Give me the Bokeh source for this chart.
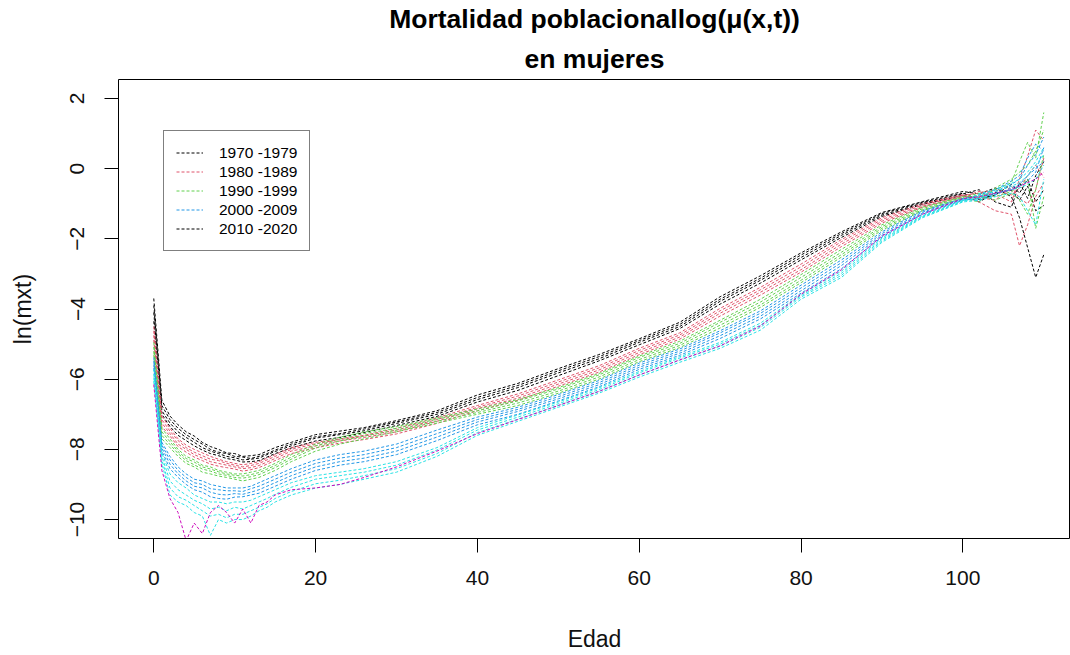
from bokeh.plotting import figure
from bokeh.models import Range1d, FixedTicker, Legend, LegendItem, Title
from bokeh.embed import file_html
from bokeh.resources import INLINE

# ---------------- data ----------------
AGES = [0, 1, 2, 3, 4, 5, 6, 7, 8, 9, 10, 11, 12, 13, 14, 15, 17, 20, 23, 26, 30,
        35, 40, 45, 50, 55, 60, 65, 70, 75, 80, 85, 90, 95, 100, 102, 104, 106,
        107, 108, 109, 110]

YEARS = [1970, 1973, 1976, 1979, 1980, 1983, 1986, 1989, 1990, 1993, 1996, 1999,
         2000, 2003, 2006, 2009, 2010, 2013, 2016, 2019, 2020]

m1970 = [-3.70, -6.60, -7.05, -7.30, -7.50, -7.62, -7.80, -7.92, -8.00, -8.10, -8.12, -8.20, -8.18, -8.15, -8.05, -7.95, -7.80, -7.58, -7.48, -7.38, -7.18, -6.90, -6.45, -6.12, -5.70, -5.30, -4.85, -4.38, -3.65, -3.05, -2.40, -1.80, -1.25, -0.94, -0.65, -0.72, -0.55, -0.80, -1.40, -2.25, -3.10, -2.45]
m1973 = [-3.90, -6.75, -7.15, -7.40, -7.58, -7.72, -7.85, -8.00, -8.08, -8.12, -8.20, -8.22, -8.26, -8.20, -8.12, -8.02, -7.85, -7.64, -7.55, -7.42, -7.22, -6.95, -6.52, -6.18, -5.76, -5.36, -4.90, -4.44, -3.72, -3.12, -2.46, -1.85, -1.28, -0.96, -0.70, -0.88, -0.75, -0.45, -0.70, -0.30, -0.95, -0.60]
m1976 = [-4.10, -6.90, -7.25, -7.50, -7.66, -7.80, -7.95, -8.05, -8.12, -8.20, -8.24, -8.30, -8.28, -8.25, -8.15, -8.06, -7.90, -7.68, -7.58, -7.47, -7.26, -7.00, -6.58, -6.24, -5.82, -5.42, -4.95, -4.50, -3.78, -3.18, -2.53, -1.90, -1.32, -0.99, -0.72, -0.60, -0.95, -1.10, -0.40, -0.85, -0.20, 0.20]
m1979 = [-4.35, -7.00, -7.35, -7.60, -7.75, -7.90, -8.02, -8.12, -8.18, -8.26, -8.30, -8.36, -8.35, -8.32, -8.22, -8.12, -7.96, -7.76, -7.66, -7.52, -7.32, -7.06, -6.65, -6.32, -5.90, -5.48, -5.02, -4.56, -3.86, -3.26, -2.60, -1.96, -1.36, -1.02, -0.76, -0.95, -0.68, -0.62, -0.90, -0.50, -1.20, -1.05]

m1980 = [-4.50, -7.05, -7.40, -7.70, -7.88, -8.00, -8.10, -8.20, -8.28, -8.35, -8.40, -8.44, -8.40, -8.35, -8.25, -8.15, -7.95, -7.80, -7.70, -7.60, -7.40, -7.10, -6.75, -6.42, -6.02, -5.62, -5.12, -4.68, -3.98, -3.38, -2.72, -2.02, -1.40, -1.00, -0.74, -0.95, -1.20, -1.30, -2.20, -1.60, -0.80, -0.40]
m1983 = [-4.62, -7.15, -7.48, -7.75, -7.95, -8.08, -8.18, -8.28, -8.32, -8.40, -8.45, -8.50, -8.46, -8.40, -8.30, -8.20, -8.00, -7.84, -7.72, -7.62, -7.45, -7.15, -6.80, -6.48, -6.08, -5.68, -5.18, -4.74, -4.05, -3.45, -2.80, -2.08, -1.45, -1.04, -0.76, -0.70, -0.60, -0.75, -0.55, -0.20, 0.10, -0.25]
m1986 = [-4.75, -7.25, -7.55, -7.85, -8.00, -8.15, -8.25, -8.35, -8.40, -8.45, -8.50, -8.55, -8.52, -8.46, -8.36, -8.26, -8.05, -7.90, -7.76, -7.66, -7.50, -7.20, -6.84, -6.54, -6.14, -5.74, -5.24, -4.80, -4.12, -3.52, -2.88, -2.15, -1.50, -1.07, -0.78, -0.82, -0.90, -0.50, -0.85, -1.00, -0.60, 0.30]
m1989 = [-4.88, -7.35, -7.62, -7.92, -8.08, -8.22, -8.32, -8.42, -8.48, -8.52, -8.56, -8.62, -8.58, -8.52, -8.42, -8.32, -8.12, -7.96, -7.82, -7.72, -7.56, -7.26, -6.90, -6.60, -6.20, -5.80, -5.30, -4.86, -4.20, -3.60, -2.95, -2.22, -1.55, -1.10, -0.80, -0.65, -0.72, -0.95, -0.30, 0.35, 1.10, 0.80]

m1990 = [-4.95, -7.40, -7.70, -8.00, -8.20, -8.30, -8.45, -8.50, -8.60, -8.65, -8.70, -8.70, -8.65, -8.60, -8.50, -8.40, -8.15, -7.85, -7.65, -7.50, -7.35, -7.10, -6.85, -6.58, -6.24, -5.84, -5.34, -4.92, -4.32, -3.72, -3.02, -2.30, -1.60, -1.10, -0.80, -0.85, -0.60, -0.40, 0.20, 0.75, 0.30, 1.60]
m1993 = [-5.08, -7.50, -7.78, -8.06, -8.26, -8.36, -8.50, -8.56, -8.64, -8.70, -8.74, -8.76, -8.72, -8.66, -8.56, -8.46, -8.22, -7.90, -7.70, -7.55, -7.40, -7.14, -6.90, -6.62, -6.28, -5.88, -5.38, -4.98, -4.38, -3.80, -3.10, -2.38, -1.65, -1.14, -0.82, -0.70, -0.80, -0.65, -0.50, -0.30, -1.70, -0.80]
m1996 = [-5.20, -7.60, -7.86, -8.12, -8.32, -8.44, -8.56, -8.62, -8.70, -8.74, -8.80, -8.82, -8.78, -8.72, -8.62, -8.52, -8.28, -7.96, -7.76, -7.62, -7.45, -7.20, -6.95, -6.68, -6.34, -5.94, -5.44, -5.04, -4.46, -3.88, -3.18, -2.45, -1.70, -1.17, -0.84, -0.95, -0.55, -0.30, -0.10, 0.10, 0.50, 1.10]
m1999 = [-5.30, -7.70, -7.95, -8.20, -8.40, -8.50, -8.65, -8.70, -8.76, -8.80, -8.85, -8.90, -8.85, -8.80, -8.70, -8.60, -8.35, -8.05, -7.85, -7.70, -7.50, -7.25, -7.00, -6.75, -6.40, -6.00, -5.50, -5.10, -4.54, -3.95, -3.25, -2.52, -1.75, -1.20, -0.86, -0.75, -0.90, -0.70, -0.90, -1.30, -0.60, 0.40]

m2000 = [-5.38, -7.80, -8.20, -8.50, -8.70, -8.85, -8.90, -9.00, -9.05, -9.10, -9.10, -9.10, -9.05, -8.95, -8.85, -8.75, -8.55, -8.30, -8.15, -8.05, -7.85, -7.45, -7.08, -6.80, -6.44, -6.04, -5.54, -5.14, -4.62, -4.05, -3.32, -2.60, -1.80, -1.20, -0.85, -0.80, -0.65, -0.45, -0.30, 0.10, 0.40, 0.90]
m2003 = [-5.48, -7.88, -8.30, -8.60, -8.80, -8.95, -9.00, -9.12, -9.15, -9.18, -9.18, -9.20, -9.12, -9.05, -8.95, -8.85, -8.65, -8.40, -8.25, -8.15, -7.95, -7.55, -7.15, -6.86, -6.50, -6.10, -5.60, -5.20, -4.68, -4.12, -3.40, -2.68, -1.85, -1.24, -0.87, -0.90, -0.75, -0.55, -0.45, -0.20, 0.00, 0.20]
m2006 = [-5.58, -7.96, -8.42, -8.70, -8.90, -9.05, -9.10, -9.22, -9.28, -9.30, -9.26, -9.28, -9.22, -9.15, -9.05, -8.95, -8.75, -8.50, -8.35, -8.25, -8.05, -7.65, -7.22, -6.92, -6.56, -6.16, -5.66, -5.26, -4.76, -4.20, -3.48, -2.76, -1.90, -1.27, -0.88, -0.75, -0.60, -0.35, -0.20, 0.30, 0.70, 0.50]
m2009 = [-5.68, -8.05, -8.55, -8.80, -9.00, -9.15, -9.22, -9.35, -9.40, -9.42, -9.36, -9.35, -9.30, -9.25, -9.15, -9.05, -8.85, -8.60, -8.45, -8.35, -8.15, -7.75, -7.30, -7.00, -6.62, -6.22, -5.72, -5.32, -4.84, -4.28, -3.55, -2.85, -1.95, -1.30, -0.90, -0.85, -0.70, -0.60, -0.50, -0.35, -0.10, 0.60]

m2010 = [-5.72, -8.10, -8.70, -8.95, -9.10, -9.30, -9.40, -9.50, -9.50, -9.55, -9.50, -9.50, -9.45, -9.35, -9.25, -9.15, -8.95, -8.75, -8.65, -8.55, -8.35, -7.95, -7.38, -7.02, -6.65, -6.25, -5.78, -5.36, -4.95, -4.40, -3.58, -2.92, -1.98, -1.34, -0.90, -0.78, -0.65, -0.50, -0.40, -0.20, 0.10, 0.40]
m2013 = [-5.85, -8.20, -8.90, -9.15, -9.30, -9.45, -9.55, -9.70, -9.65, -9.75, -9.65, -9.70, -9.60, -9.50, -9.40, -9.28, -9.08, -8.85, -8.75, -8.65, -8.45, -8.02, -7.45, -7.08, -6.70, -6.30, -5.82, -5.40, -5.00, -4.46, -3.62, -2.98, -2.02, -1.36, -0.92, -0.85, -0.72, -0.60, -0.55, -0.45, -0.30, 0.10]
m2016 = [-5.95, -8.30, -9.10, -9.35, -9.45, -9.60, -9.75, -9.90, -9.85, -9.95, -9.85, -9.85, -9.75, -9.65, -9.55, -9.40, -9.20, -8.98, -8.88, -8.75, -8.55, -8.12, -7.52, -7.14, -6.75, -6.35, -5.88, -5.46, -5.06, -4.52, -3.66, -3.04, -2.06, -1.38, -0.94, -0.72, -0.60, -0.42, -0.30, -0.10, 0.20, 0.60]
m2019 = [-6.05, -8.40, -9.30, -9.50, -9.60, -9.80, -9.90, -10.45, -10.00, -10.10, -10.00, -10.00, -9.90, -9.75, -9.65, -9.50, -9.30, -9.10, -9.00, -8.85, -8.65, -8.20, -7.60, -7.20, -6.80, -6.40, -5.94, -5.52, -5.12, -4.60, -3.72, -3.10, -2.10, -1.40, -0.95, -0.90, -0.80, -0.70, -0.80, -1.20, -1.60, -0.30]

m2020 = [-6.15, -8.60, -9.40, -9.80, -10.60, -10.10, -10.40, -9.80, -9.60, -9.80, -10.10, -9.70, -10.10, -9.60, -9.50, -9.30, -9.15, -9.10, -9.00, -8.80, -8.50, -8.05, -7.55, -7.15, -6.75, -6.35, -5.88, -5.45, -5.05, -4.48, -3.58, -2.88, -1.92, -1.30, -0.85, -0.80, -0.70, -0.60, -0.50, -0.40, -0.30, -0.10]

CURVES = [m1970, m1973, m1976, m1979, m1980, m1983, m1986, m1989, m1990, m1993,
          m1996, m1999, m2000, m2003, m2006, m2009, m2010, m2013, m2016, m2019, m2020]

# R default palette, one colour per decade (2020 gets the 6th colour)
BLACK, RED, GREEN, BLUE, CYAN, MAGENTA = "#000000", "#DF536B", "#61D04F", "#2297E6", "#28E2E5", "#CD0BBC"
DECADE_COLORS = {1970: BLACK, 1980: RED, 1990: GREEN, 2000: BLUE, 2010: CYAN, 2020: MAGENTA}

LEGEND_LABELS = ["1970 -1979", "1980 -1989", "1990 -1999", "2000 -2009", "2010 -2020"]
LEGEND_YEARS = [1970, 1980, 1990, 2000, 1970]

X_TICKS = [0, 20, 40, 60, 80, 100]
Y_TICKS = [-10, -8, -6, -4, -2, 0, 2]

TITLE_1 = "Mortalidad poblacionallog(μ(x,t))"
TITLE_2 = "en mujeres"

FONT = "Liberation Sans"

# ---------------- figure ----------------
p = figure(width=1070, height=655,
           x_range=Range1d(-4.36, 113.3), y_range=Range1d(-10.54, 2.54),
           output_backend="svg", toolbar_location=None,
           min_border_left=118, min_border_right=0,
           min_border_top=78, min_border_bottom=117,
           title=TITLE_1)

p.background_fill_color = "white"
p.border_fill_color = "white"
p.outline_line_color = "black"
p.outline_line_width = 1
p.xgrid.grid_line_color = None
p.ygrid.grid_line_color = None

renderers = {}
for year, vals in zip(YEARS, CURVES):
    col = DECADE_COLORS[(year // 10) * 10]
    r = p.line(AGES, vals, line_color=col, line_width=1, line_dash="3 2")
    renderers[year] = r

# titles (second line added last sits closest to the frame)
p.title.align = "center"
p.title.text_font = FONT
p.title.text_font_size = "26.5px"
p.title.text_font_style = "bold"
p.title.text_color = "black"
p.title.standoff = 3
t2 = Title(text=TITLE_2, align="center",
           text_font=FONT, text_font_size="26.5px", text_font_style="bold",
           text_color="black", standoff=12)
p.add_layout(t2, "above")

# axes
for ax in (p.xaxis[0], p.yaxis[0]):
    ax.axis_line_color = None
    ax.major_tick_in = 0
    ax.major_tick_out = 14
    ax.major_tick_line_color = "black"
    ax.minor_tick_line_color = None
    ax.major_label_text_font = FONT
    ax.major_label_text_font_size = "21px"
    ax.major_label_text_color = "#111111"
    ax.axis_label_text_font = FONT
    ax.axis_label_text_font_size = "23px"
    ax.axis_label_text_font_style = "normal"
    ax.axis_label_text_color = "#111111"

p.xaxis.ticker = FixedTicker(ticks=X_TICKS)
p.yaxis.ticker = FixedTicker(ticks=Y_TICKS)
p.xaxis.axis_label = "Edad"
p.yaxis.axis_label = "ln(mxt)"
p.yaxis.major_label_orientation = "parallel"
p.xaxis.major_label_standoff = 18
p.yaxis.major_label_standoff = 20
p.xaxis.axis_label_standoff = 38
p.yaxis.axis_label_standoff = 32

# legend
items = [LegendItem(label=lab, renderers=[renderers[y]]) for lab, y in zip(LEGEND_LABELS, LEGEND_YEARS)]
legend = Legend(items=items, location=(45, 287))
legend.border_line_color = "black"
legend.border_line_width = 1
legend.background_fill_color = "white"
legend.background_fill_alpha = 1
legend.label_text_font = FONT
legend.label_text_font_size = "15.5px"
legend.label_text_color = "black"
legend.glyph_width = 27
legend.glyph_height = 19
legend.label_height = 19
legend.label_standoff = 16
legend.spacing = 0
legend.padding = 12
legend.margin = 0
p.add_layout(legend, "center")

open("out.html", "w").write(file_html(p, INLINE))
